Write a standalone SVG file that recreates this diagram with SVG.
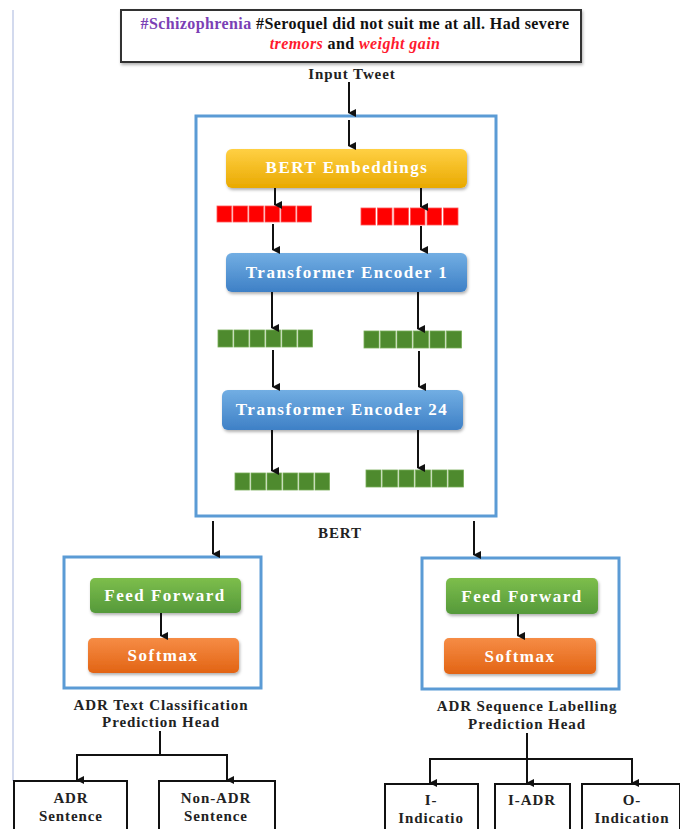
<svg xmlns="http://www.w3.org/2000/svg" width="680" height="829" viewBox="0 0 680 829">
<defs>
<marker id="ah" markerWidth="8" markerHeight="8" refX="4" refY="7" orient="auto" markerUnits="userSpaceOnUse" viewBox="0 0 8 8">
<path d="M0,0 L8,0 L4,8 Z" fill="#111"/>
</marker>
<linearGradient id="gY" x1="0" y1="0" x2="0" y2="1"><stop offset="0" stop-color="#FFD044"/><stop offset="1" stop-color="#E9A900"/></linearGradient>
<linearGradient id="gB" x1="0" y1="0" x2="0" y2="1"><stop offset="0" stop-color="#72AEE3"/><stop offset="1" stop-color="#3E80C6"/></linearGradient>
<linearGradient id="gG" x1="0" y1="0" x2="0" y2="1"><stop offset="0" stop-color="#7DBE4C"/><stop offset="1" stop-color="#55993A"/></linearGradient>
<linearGradient id="gO" x1="0" y1="0" x2="0" y2="1"><stop offset="0" stop-color="#F68C45"/><stop offset="1" stop-color="#E26414"/></linearGradient>
<filter id="sh" x="-10%" y="-20%" width="120%" height="150%"><feDropShadow dx="1" dy="2" stdDeviation="1.5" flood-color="#000" flood-opacity="0.3"/></filter>
</defs>
<style>
text{font-family:"Liberation Serif","Times New Roman",serif;font-weight:bold;text-anchor:middle}
.lbl{font-size:15px;fill:#222;letter-spacing:0.9px}
.wt{font-size:17px;fill:#fff;letter-spacing:1.5px}
.tw{font-size:16px;letter-spacing:0.4px;fill:#111}
.frame{fill:none;stroke:#5B9BD5;stroke-width:3}
.out{fill:#fff;stroke:#111;stroke-width:2}
.con{stroke:#111;stroke-width:2;fill:none}
.arr{stroke:#111;stroke-width:2;fill:none;marker-end:url(#ah)}
.rs{fill:#FF0000;stroke:#FF5555;stroke-width:0.8}
.gs{fill:#4E8A2E;stroke:#78AC58;stroke-width:0.8}
</style>
<rect width="680" height="829" fill="#fff"/>
<line x1="13" y1="10" x2="13" y2="781" stroke="#D3DAEE" stroke-width="2"/>

<g id="tweet">
<rect x="121" y="10" width="460" height="52" fill="#fff" stroke="#333" stroke-width="2" filter="url(#sh)"/>
<text class="tw" x="355" y="29"><tspan fill="#7B3FB5">#Schizophrenia</tspan> #Seroquel did not suit me at all. Had severe</text>
<text class="tw" x="355" y="49"><tspan fill="#FF1A2E" font-style="italic">tremors</tspan> and <tspan fill="#FF1A2E" font-style="italic">weight gain</tspan></text>
</g>
<g id="input-label"><text class="lbl" x="352" y="79">Input Tweet</text></g>

<g id="bert">
<rect class="frame" x="196" y="116" width="300" height="400"/>
<text class="lbl" x="340" y="538">BERT</text>
</g>

<g id="bert-embeddings">
<rect x="226" y="149" width="241" height="39" rx="6" fill="url(#gY)" filter="url(#sh)"/>
<text class="wt" x="347" y="173">BERT Embeddings</text>
</g>
<g id="emb-tokens">
<rect class="rs" x="217" y="206" width="14.5" height="16"/><rect class="rs" x="233" y="206" width="14.5" height="16"/><rect class="rs" x="249" y="206" width="14.5" height="16"/><rect class="rs" x="265" y="206" width="14.5" height="16"/><rect class="rs" x="281" y="206" width="14.5" height="16"/><rect class="rs" x="297" y="206" width="14.5" height="16"/>
<rect class="rs" x="361" y="208" width="14.5" height="17"/><rect class="rs" x="377.5" y="208" width="14.5" height="17"/><rect class="rs" x="394" y="208" width="14.5" height="17"/><rect class="rs" x="410.5" y="208" width="14.5" height="17"/><rect class="rs" x="427" y="208" width="14.5" height="17"/><rect class="rs" x="443.5" y="208" width="14.5" height="17"/>
</g>

<g id="transformer-1">
<rect x="226" y="253" width="241" height="39" rx="6" fill="url(#gB)" filter="url(#sh)"/>
<text class="wt" x="347" y="278">Transformer Encoder 1</text>
</g>
<g id="enc1-tokens">
<rect class="gs" x="218" y="330" width="14.5" height="17"/><rect class="gs" x="234" y="330" width="14.5" height="17"/><rect class="gs" x="250" y="330" width="14.5" height="17"/><rect class="gs" x="266" y="330" width="14.5" height="17"/><rect class="gs" x="282" y="330" width="14.5" height="17"/><rect class="gs" x="298" y="330" width="14.5" height="17"/>
<rect class="gs" x="364" y="331" width="15" height="17"/><rect class="gs" x="380.5" y="331" width="15" height="17"/><rect class="gs" x="397" y="331" width="15" height="17"/><rect class="gs" x="413.5" y="331" width="15" height="17"/><rect class="gs" x="430" y="331" width="15" height="17"/><rect class="gs" x="446.5" y="331" width="15" height="17"/>
</g>

<g id="transformer-24">
<rect x="222" y="390" width="241" height="40" rx="6" fill="url(#gB)" filter="url(#sh)"/>
<text class="wt" x="342" y="415">Transformer Encoder 24</text>
</g>
<g id="enc24-tokens">
<rect class="gs" x="235" y="473" width="14.5" height="17"/><rect class="gs" x="251" y="473" width="14.5" height="17"/><rect class="gs" x="267" y="473" width="14.5" height="17"/><rect class="gs" x="283" y="473" width="14.5" height="17"/><rect class="gs" x="299" y="473" width="14.5" height="17"/><rect class="gs" x="315" y="473" width="14.5" height="17"/>
<rect class="gs" x="366" y="470" width="15" height="17"/><rect class="gs" x="382.5" y="470" width="15" height="17"/><rect class="gs" x="399" y="470" width="15" height="17"/><rect class="gs" x="415.5" y="470" width="15" height="17"/><rect class="gs" x="432" y="470" width="15" height="17"/><rect class="gs" x="448.5" y="470" width="15" height="17"/>
</g>

<g id="cls-head">
<rect class="frame" x="64" y="557" width="197" height="131"/>
<text class="lbl" x="161" y="710">ADR Text Classification</text>
<text class="lbl" x="161" y="727">Prediction Head</text>
</g>
<g id="cls-ff"><rect x="90" y="578" width="151" height="35" rx="5" fill="url(#gG)" filter="url(#sh)"/><text class="wt" x="165" y="601">Feed Forward</text></g>
<g id="cls-softmax"><rect x="88" y="638" width="151" height="35" rx="5" fill="url(#gO)" filter="url(#sh)"/><text class="wt" x="163" y="661">Softmax</text></g>

<g id="seq-head">
<rect class="frame" x="422" y="558" width="197" height="131"/>
<text class="lbl" x="527" y="711">ADR Sequence Labelling</text>
<text class="lbl" x="527" y="729">Prediction Head</text>
</g>
<g id="seq-ff"><rect x="446" y="578" width="152" height="36" rx="5" fill="url(#gG)" filter="url(#sh)"/><text class="wt" x="522" y="602">Feed Forward</text></g>
<g id="seq-softmax"><rect x="444" y="638" width="152" height="36" rx="5" fill="url(#gO)" filter="url(#sh)"/><text class="wt" x="520" y="662">Softmax</text></g>

<g id="out-adr"><rect class="out" x="14" y="781" width="113" height="60"/><text class="lbl" x="71" y="803">ADR</text><text class="lbl" x="71" y="821">Sentence</text></g>
<g id="out-nonadr"><rect class="out" x="159" y="781" width="116" height="60"/><text class="lbl" x="216" y="803">Non-ADR</text><text class="lbl" x="216" y="821">Sentence</text></g>
<g id="out-i-ind"><rect class="out" x="385" y="784" width="93" height="60"/><text class="lbl" x="431" y="805">I-</text><text class="lbl" x="431" y="823">Indicatio</text></g>
<g id="out-i-adr"><rect class="out" x="495" y="784" width="75" height="60"/><text class="lbl" x="532" y="805">I-ADR</text></g>
<g id="out-o-ind"><rect class="out" x="582" y="784" width="98" height="60"/><text class="lbl" x="632" y="805">O-</text><text class="lbl" x="632" y="823">Indication</text></g>

<g id="connectors">
<line class="arr" x1="349" y1="82" x2="349" y2="113"/>
<line class="arr" x1="349" y1="120" x2="349" y2="146"/>
<line class="arr" x1="275" y1="188" x2="275" y2="205"/>
<line class="arr" x1="421" y1="188" x2="421" y2="207"/>
<line class="arr" x1="273" y1="224" x2="273" y2="250"/>
<line class="arr" x1="421" y1="226" x2="421" y2="250"/>
<line class="arr" x1="272" y1="292" x2="272" y2="328"/>
<line class="arr" x1="418" y1="292" x2="418" y2="329"/>
<line class="arr" x1="273" y1="350" x2="273" y2="387"/>
<line class="arr" x1="419" y1="351" x2="419" y2="387"/>
<line class="arr" x1="272" y1="430" x2="272" y2="471"/>
<line class="arr" x1="418" y1="430" x2="418" y2="468"/>
<line class="arr" x1="213" y1="521" x2="213" y2="554"/>
<line class="arr" x1="474" y1="521" x2="474" y2="555"/>
<line class="arr" x1="161" y1="613" x2="161" y2="636"/>
<line class="arr" x1="518" y1="614" x2="518" y2="636"/>
<polyline class="con" points="160,731 160,755"/>
<polyline class="con" points="77,755 227,755"/>
<line class="arr" x1="77" y1="754" x2="77" y2="780"/>
<line class="arr" x1="227" y1="754" x2="227" y2="780"/>
<polyline class="con" points="527,733 527,759"/>
<polyline class="con" points="430,759 632,759"/>
<line class="arr" x1="430" y1="758" x2="430" y2="783"/>
<line class="arr" x1="527" y1="758" x2="527" y2="783"/>
<line class="arr" x1="632" y1="758" x2="632" y2="783"/>
</g>
</svg>
